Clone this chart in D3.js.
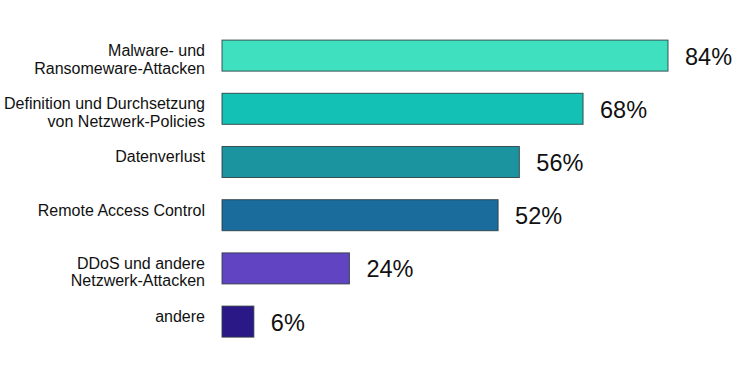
<!DOCTYPE html>
<html>
<head>
<meta charset="utf-8">
<script src="https://cdn.jsdelivr.net/npm/d3@7"></script>
<style>
  body { margin: 0; background: #fff; }
  text { font-family: Arial, "Liberation Sans", sans-serif; fill: #111; }
</style>
</head>
<body>
<div id="place"></div>
<script>
// donnees
const categories = [
  ["Malware- und", "Ransomeware-Attacken"],
  ["Definition und Durchsetzung", "von Netzwerk-Policies"],
  ["Datenverlust"],
  ["Remote Access Control"],
  ["DDoS und andere", "Netzwerk-Attacken"],
  ["andere"]
];
const values = [84, 68, 56, 52, 24, 6];
const colors = ["#3ee0bf", "#13c2b4", "#1b949f", "#1a6c9c", "#6044c2", "#2b1887"];

const width = 750, height = 372;

let svg = d3.select("#place")
  .append("svg")
  .attr("width", width)
  .attr("height", height);

let x = d3.scaleLinear()
  .domain([0, 84])
  .range([222, 668]);

let y = d3.scaleBand()
  .domain(d3.range(values.length))
  .range([29, 348.2])
  .paddingInner(0.417)
  .paddingOuter(0.2085);

let rows = svg.selectAll("g.row")
  .data(values)
  .join("g")
  .attr("class", "row");

rows.append("rect")
  .attr("x", x(0))
  .attr("y", (d, i) => y(i))
  .attr("width", d => x(d) - x(0))
  .attr("height", y.bandwidth())
  .attr("fill", (d, i) => colors[i])
  .attr("stroke", "#2a3a40")
  .attr("stroke-opacity", 0.85)
  .attr("stroke-width", 1);

// valeurs a droite des barres
rows.append("text")
  .attr("x", d => x(d) + 17)
  .attr("y", (d, i) => y(i) + y.bandwidth() / 2 + 9)
  .style("font-size", "23.5px")
  .text(d => d + "%");

// libelles
rows.append("text")
  .attr("text-anchor", "end")
  .style("font-size", "16px")
  .each(function (d, i) {
    d3.select(this).selectAll("tspan")
      .data(categories[i])
      .join("tspan")
      .attr("x", 205)
      .attr("y", (l, j) => y(i) + 16 + j * 17.5)
      .text(l => l);
  });
</script>
</body>
</html>
